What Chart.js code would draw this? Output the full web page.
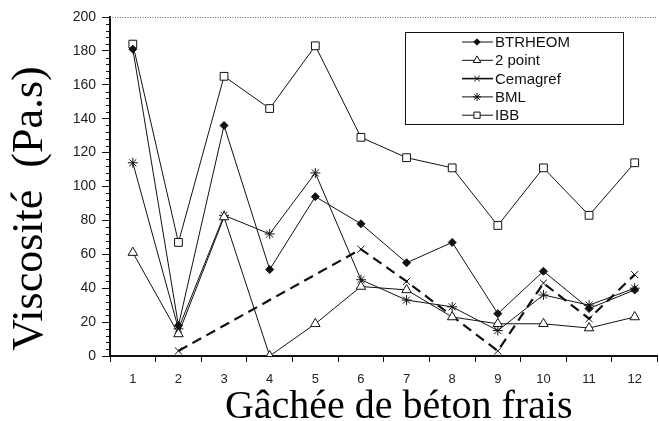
<!DOCTYPE html>
<html lang="fr">
<head>
<meta charset="utf-8">
<title>Viscosité</title>
<script src="https://cdn.jsdelivr.net/npm/chart.js@4.4.1/dist/chart.umd.min.js"></script>
<style>
  html, body { margin: 0; padding: 0; background: #fff; overflow: hidden; }
  #wrap { width: 664px; height: 421px; position: relative; }
</style>
</head>
<body>
<div id="wrap"><canvas id="chart"></canvas></div>
<script>
// gâchées 1..12
const gachees = ["1", "2", "3", "4", "5", "6", "7", "8", "9", "10", "11", "12"];

// viscosité (Pa.s) par rhéomètre
const btrheom  = [181, 18, 136, 51, 94, 78, 55, 67, 25, 50, 28, 39];
const deuxPoint = [61, 13, 82, 0, 19, 41, 39, 23, 19, 19, 16.5, 23];
const cemagref = [null, 3, null, null, null, 63, 44, null, 3, 43, 22, 48];
const bml      = [114, 16, 83, 72, 108, 45, 33, 29, 15, 36, 30, 40];
const ibb      = [184, 67, 165, 146, 183, 129, 117, 111, 77, 111, 83, 114];

const yMax = 200;
const yStepMajeur = 20;
const yStepMineur = 4;

const noir = "#111";

// ticks mineurs, ligne pointillée du haut et légende dans le cadre
const decorPlugin = {
  id: "decor",
  afterDraw(chart) {
    const { ctx, chartArea } = chart;
    const y = chart.scales.y;
    ctx.save();

    // ligne pointillée à 200
    const yt = y.getPixelForValue(yMax);
    ctx.strokeStyle = "#666";
    ctx.lineWidth = 1;
    ctx.setLineDash([1, 1.5]);
    ctx.beginPath();
    ctx.moveTo(chartArea.left, yt + 0.5);
    ctx.lineTo(chartArea.right, yt + 0.5);
    ctx.stroke();
    ctx.setLineDash([]);

    // ticks mineurs
    ctx.strokeStyle = noir;
    ctx.lineWidth = 1;
    for (let v = 0; v <= yMax; v += yStepMineur) {
      if (v % yStepMajeur === 0) continue;
      const py = Math.round(y.getPixelForValue(v)) + 0.5;
      ctx.beginPath();
      ctx.moveTo(chartArea.left - 4, py);
      ctx.lineTo(chartArea.left + 1, py);
      ctx.stroke();
    }

    // légende
    const bx = 405, by = 32, bw = 218, bh = 92;
    ctx.fillStyle = "#fff";
    ctx.fillRect(bx, by, bw, bh);
    ctx.strokeStyle = noir;
    ctx.lineWidth = 1;
    ctx.strokeRect(bx + 0.5, by + 0.5, bw, bh);

    ctx.font = "15px 'Liberation Sans', Arial, sans-serif";
    ctx.textBaseline = "middle";
    ctx.textAlign = "left";
    chart.data.datasets.forEach((ds, i) => {
      const ry = 42 + i * 18.3;
      ctx.strokeStyle = noir;
      ctx.lineWidth = ds.borderWidth > 1 ? 1.6 : 1;
      ctx.beginPath();
      ctx.moveTo(462, ry);
      ctx.lineTo(493, ry);
      ctx.stroke();
      ctx.fillStyle = ds.pointBackgroundColor;
      ctx.strokeStyle = noir;
      ctx.lineWidth = 1;
      Chart.helpers.drawPoint(ctx, {
        pointStyle: ds.pointStyle,
        radius: ds.pointRadius * 0.8,
        rotation: 0,
        borderWidth: 1
      }, 477, ry);
      ctx.fillStyle = noir;
      ctx.fillText(ds.label, 495, ry + 1);
    });

    ctx.restore();
  }
};

function serie(label, data, style, radius, fond, extra) {
  return Object.assign({
    label: label,
    data: data,
    borderColor: noir,
    borderWidth: 1,
    backgroundColor: fond,
    pointStyle: style,
    pointRadius: radius,
    pointBackgroundColor: fond,
    pointBorderColor: noir,
    pointBorderWidth: 1,
    tension: 0
  }, extra || {});
}

new Chart(document.getElementById("chart"), {
  type: "line",
  data: {
    labels: gachees,
    datasets: [
      serie("BTRHEOM", btrheom, "rectRot", 4, noir),
      serie("2 point", deuxPoint, "triangle", 5.5, "#fff"),
      serie("Cemagref", cemagref, "crossRot", 5, "#fff",
        { borderWidth: 2.2, borderDash: [10, 6], spanGaps: true }),
      serie("BML", bml, "star", 5, "#fff"),
      serie("IBB", ibb, "rect", 5.5, "#fff")
    ]
  },
  options: {
    responsive: true,
    maintainAspectRatio: false,
    animation: false,
    layout: { padding: { top: 17, right: 0, bottom: 0, left: 0 } },
    plugins: {
      legend: { display: false },
      tooltip: { enabled: false }
    },
    scales: {
      x: {
        type: "category",
        offset: true,
        grid: { offset: true, drawOnChartArea: false, tickLength: 6, color: noir },
        border: { color: noir, width: 2 },
        ticks: {
          color: "#222",
          padding: 10,
          maxRotation: 0,
          font: { family: "'Liberation Sans', Arial, sans-serif", size: 13 }
        },
        title: {
          display: true,
          text: "   Gâchée de béton frais",
          color: "#000",
          padding: { top: 0, bottom: 0 },
          font: { family: "'Liberation Serif', 'Times New Roman', serif", size: 40, lineHeight: 0.7 }
        },
        afterFit(scale) { scale.height = 65; }
      },
      y: {
        min: 0,
        max: yMax,
        grid: { drawOnChartArea: false, tickLength: 8, color: noir },
        border: { color: noir, width: 2 },
        ticks: {
          stepSize: yStepMajeur,
          autoSkip: false,
          color: "#222",
          padding: 6,
          font: { family: "'Liberation Sans', Arial, sans-serif", size: 14 }
        },
        title: {
          display: true,
          text: "Viscosité  (Pa.s)    ",
          color: "#000",
          padding: { top: 4, bottom: 0 },
          font: { family: "'Liberation Serif', 'Times New Roman', serif", size: 44 }
        },
        afterFit(scale) { scale.width = 110; }
      }
    }
  },
  plugins: [decorPlugin]
});
</script>
</body>
</html>
